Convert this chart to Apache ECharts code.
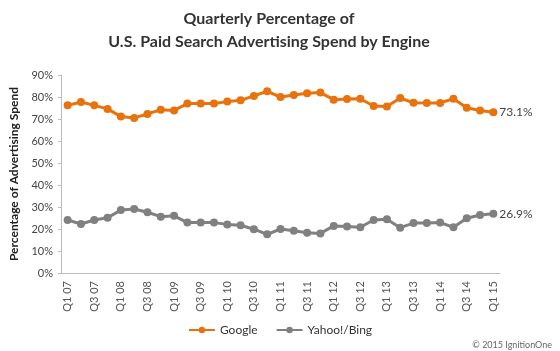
<!DOCTYPE html>
<html><head><meta charset="utf-8">
<script src="https://cdn.jsdelivr.net/npm/echarts@6/dist/echarts.min.js"></script>
<style>html,body{margin:0;padding:0;background:#fff}#c{width:560px;height:351px}</style>
</head><body><div id="c"></div>
<script>
const quarters = [];
const years = ['07','08','09','10','11','12','13','14','15'];
for (const y of years) for (const q of [1,2,3,4]) { if (y === '15' && q > 1) break; quarters.push('Q' + q + ' ' + y); }
const google = [76.2,77.7,76.2,74.6,71.1,70.5,72.3,74.2,73.9,77.0,77.0,77.0,77.9,78.5,80.5,82.6,80.0,80.9,81.7,82.0,78.8,79.1,79.2,75.9,75.7,79.5,77.4,77.3,77.3,79.2,75.1,73.9,73.1];
const yahoo = [24.1,22.3,24.1,25.1,28.6,29.1,27.6,25.6,26.0,22.9,22.9,22.9,22.1,21.7,19.9,17.6,20.0,19.2,18.3,18.0,21.4,21.1,20.8,24.1,24.4,20.6,22.7,22.7,22.9,20.8,24.9,26.4,26.9];
const yTicks = [0,10,20,30,40,50,60,70,80,90];
const font = 'Lato';
const chart = echarts.init(document.getElementById('c'));
function endLabel(v){ return { show: true, position: 'right', distance: 2, color: '#444', fontSize: 12, fontFamily: font, formatter: p => p.dataIndex === quarters.length - 1 ? v.toFixed(1) + '%' : '' }; }
chart.setOption({
  animation: false,
  title: {
    text: 'Quarterly Percentage of\nU.S. Paid Search Advertising Spend by Engine',
    left: 264, top: 2, textAlign: 'center',
    textStyle: { fontFamily: font, fontWeight: 'bold', fontSize: 16, color: '#333', lineHeight: 23 }
  },
  graphic: [{ type: 'text', right: 8, top: 341, style: { text: '© 2015 IgnitionOne', fontSize: 9, fill: '#666', fontFamily: font } }],
  legend: {
    data: ['Google', 'Yahoo!/Bing'], left: 'center', top: 319, itemWidth: 26, itemHeight: 8, itemGap: 18,
    textStyle: { fontFamily: font, fontSize: 12, color: '#333' }
  },
  grid: { left: 61, right: 60, top: 75, bottom: 78 },
  xAxis: {
    type: 'category', data: quarters, boundaryGap: true,
    axisLine: { lineStyle: { color: '#bbb' } }, axisTick: { show: false },
    axisLabel: { rotate: 90, interval: 1, color: '#555', fontSize: 11, fontFamily: font, margin: 8 }
  },
  yAxis: {
    type: 'value', min: 0, max: 90, interval: 10,
    name: 'Percentage of Advertising Spend', nameLocation: 'middle', nameGap: 40,
    nameTextStyle: { fontFamily: font, fontWeight: 'bold', fontSize: 12, color: '#222' },
    axisLine: { show: true, lineStyle: { color: '#bbb' } }, axisTick: { show: true, length: 3, lineStyle: { color: '#bbb' } },
    splitLine: { show: false },
    axisLabel: { color: '#444', fontSize: 11, fontFamily: font, formatter: v => yTicks.includes(v) ? v + '%' : '' }
  },
  series: [
    { name: 'Google', type: 'line', data: google, symbol: 'circle', symbolSize: 8, color: '#E8720C', lineStyle: { width: 3 }, label: endLabel(73.1) },
    { name: 'Yahoo!/Bing', type: 'line', data: yahoo, symbol: 'circle', symbolSize: 8, color: '#808080', lineStyle: { width: 3 }, label: endLabel(26.9) }
  ]
});
</script></body></html>
